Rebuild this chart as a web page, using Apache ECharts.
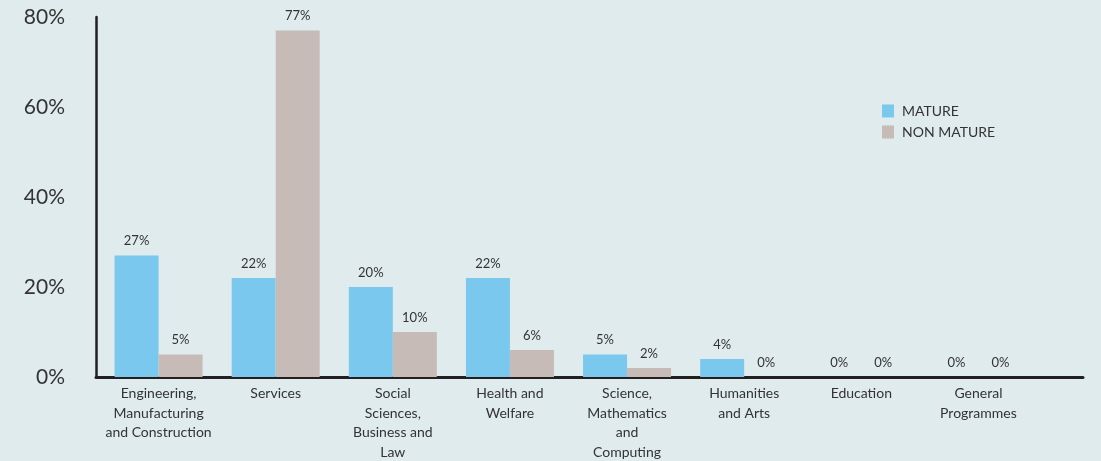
<!DOCTYPE html>
<html>
<head>
<meta charset="utf-8">
<script src="https://cdn.jsdelivr.net/npm/echarts@6/dist/echarts.min.js"></script>
<style>
html,body{margin:0;padding:0;background:#e0ebed;}
#c{width:1101px;height:461px;}
</style>
</head>
<body>
<div id="c"></div>
<script>
const categories = [
  'Engineering,\nManufacturing\nand Construction',
  'Services',
  'Social\nSciences,\nBusiness and\nLaw',
  'Health and\nWelfare',
  'Science,\nMathematics\nand\nComputing',
  'Humanities\nand Arts',
  'Education',
  'General\nProgrammes'
];
const mature = [27, 22, 20, 22, 5, 4, 0, 0];
const nonMature = [5, 77, 10, 6, 2, 0, 0, 0];
const yTicks = [0, 20, 40, 60, 80];

const FONT = 'Lato';
const TXT = '#333333';
const AX = '#231f20';

const chart = echarts.init(document.getElementById('c'), null, {renderer: 'canvas'});
const labelCfg = {
  show: true, position: 'top', distance: 8,
  formatter: p => p.value + '%',
  color: TXT, fontFamily: FONT, fontSize: 13
};
chart.setOption({
  backgroundColor: '#e0ebed',
  animation: false,
  textStyle: {fontFamily: FONT},
  legend: {
    orient: 'vertical', left: 877, top: 99,
    itemWidth: 12, itemHeight: 13, itemGap: 7,
    icon: 'rect',
    textStyle: {color: TXT, fontFamily: FONT, fontSize: 14, padding: [0, 0, 0, 3]},
    data: ['MATURE', 'NON MATURE']
  },
  grid: [
    {left: 100, right: 64, top: 17, bottom: 84, containLabel: false, outerBoundsMode: 'none'},
    {left: 96, right: 18, top: 17, bottom: 84, containLabel: false, outerBoundsMode: 'none'}
  ],
  xAxis: [
    {
      type: 'category', gridIndex: 0, data: categories,
      axisLine: {show: false}, axisTick: {show: false},
      axisLabel: {color: TXT, fontFamily: FONT, fontSize: 14, lineHeight: 19.5, margin: 7, interval: 0}
    },
    {
      type: 'value', gridIndex: 1, min: 0, max: 1,
      axisLine: {show: true, lineStyle: {color: AX, width: 3}},
      axisTick: {show: false}, axisLabel: {show: false}, splitLine: {show: false}
    }
  ],
  yAxis: [
    {
      type: 'value', gridIndex: 0, min: 0, max: 80, interval: 20,
      show: false, splitLine: {show: false}
    },
    {
      type: 'value', gridIndex: 1, min: yTicks[0], max: yTicks[yTicks.length - 1], interval: 20,
      axisLine: {show: true, lineStyle: {color: AX, width: 2.5}},
      axisTick: {show: false}, splitLine: {show: false},
      axisLabel: {color: TXT, fontFamily: FONT, fontSize: 21, margin: 31, formatter: v => v + '%'}
    }
  ],
  series: [
    {
      name: 'MATURE', type: 'bar', xAxisIndex: 0, yAxisIndex: 0,
      data: mature, barWidth: 44, barGap: '0%',
      itemStyle: {color: '#7bc8ef'}, label: labelCfg
    },
    {
      name: 'NON MATURE', type: 'bar', xAxisIndex: 0, yAxisIndex: 0,
      data: nonMature, barWidth: 44, barGap: '0%',
      itemStyle: {color: '#c6bbb6'}, label: labelCfg
    }
  ]
});
</script>
</body>
</html>
